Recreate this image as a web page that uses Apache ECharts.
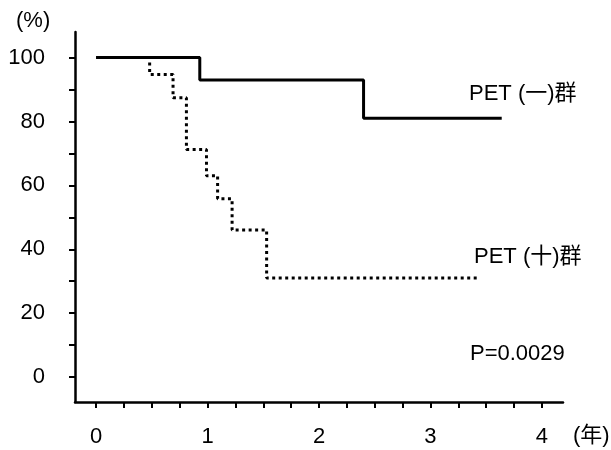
<!DOCTYPE html>
<html>
<head>
<meta charset="utf-8">
<script src="https://cdn.jsdelivr.net/npm/echarts@6/dist/echarts.min.js"></script>
<style>
  html, body { margin: 0; padding: 0; background: #fff; }
  #chart { width: 611px; height: 450px; }
</style>
</head>
<body>
<div id="chart"></div>
<script>
// PET (一) group, survival step curve
const timesNeg = [0, 0.93, 2.40, 3.64]
const survNeg = [100, 93, 81, 81]

// PET (十) group
const timesPos = [0, 0.48, 0.69, 0.81, 0.99, 1.09, 1.22, 1.53, 3.42]
const survPos = [100, 94.7, 87.4, 71.2, 63, 55.8, 46, 31, 31]

const xTicks = [0, 0.25, 0.5, 0.75, 1, 1.25, 1.5, 1.75, 2, 2.25, 2.5, 2.75, 3, 3.25, 3.5, 3.75, 4]
const xLabels = [0, 1, 2, 3, 4]
const yTicks = [0, 10, 20, 30, 40, 50, 60, 70, 80, 90, 100]
const yLabels = [0, 20, 40, 60, 80, 100]

const FONT = '"Liberation Sans", Arial, "Noto Sans CJK JP", sans-serif'
const FS = 22

function _pairs(xs, ys) {
  return xs.map((x, i) => [x, ys[i]])
}

function _text(left, top, text) {
  return {
    type: 'text',
    left,
    top,
    style: { text, fontSize: FS, fontFamily: FONT, fill: '#000' },
  }
}

const chart = echarts.init(document.getElementById('chart'))

const options = {
  animation: false,
  backgroundColor: '#fff',
  grid: {
    left: 75,
    right: 48,
    top: 32,
    bottom: 48,
  },
  xAxis: {
    type: 'value',
    min: -0.19,
    max: 4.19,
    axisLine: { show: true, onZero: false, lineStyle: { color: '#000', width: 2.5 } },
    axisTick: {
      show: true,
      customValues: xTicks,
      length: 6,
      lineStyle: { color: '#000', width: 2 },
    },
    axisLabel: {
      customValues: xLabels,
      margin: 24,
      color: '#000',
      fontSize: FS,
      fontFamily: FONT,
    },
    splitLine: { show: false },
  },
  yAxis: {
    type: 'value',
    min: -7.8,
    max: 108,
    axisLine: { show: true, onZero: false, lineStyle: { color: '#000', width: 2.5 } },
    axisTick: {
      show: true,
      customValues: yTicks,
      length: 6,
      lineStyle: { color: '#000', width: 2 },
    },
    axisLabel: {
      customValues: yLabels,
      margin: 30,
      color: '#000',
      fontSize: FS,
      fontFamily: FONT,
    },
    splitLine: { show: false },
  },
  graphic: [
    _text(16, 10, '(%)'),
    _text(469, 83, 'PET (一)群'),
    _text(474, 246, 'PET (十)群'),
    _text(470, 343, 'P=0.0029'),
    _text(573, 425, '(年)'),
  ],
  series: [
    {
      name: 'PET (十)群',
      type: 'line',
      step: 'end',
      symbol: 'none',
      data: _pairs(timesPos, survPos),
      lineStyle: { color: '#000', width: 3, type: [3, 3.5] },
    },
    {
      name: 'PET (一)群',
      type: 'line',
      step: 'end',
      symbol: 'none',
      data: _pairs(timesNeg, survNeg),
      lineStyle: { color: '#000', width: 3 },
    },
  ],
}

chart.setOption(options)
</script>
</body>
</html>
